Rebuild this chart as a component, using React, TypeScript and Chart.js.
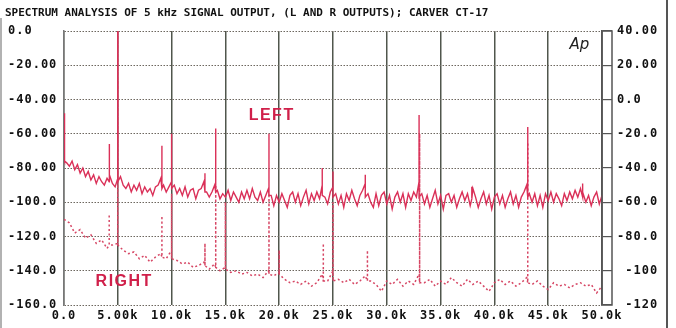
import React, { useEffect, useRef } from 'react';
import { Chart, registerables } from 'chart.js';

Chart.register(...registerables);

const TITLE = 'SPECTRUM ANALYSIS OF 5 kHz SIGNAL OUTPUT, (L AND R OUTPUTS); CARVER CT-17';

// X axis (kHz)
const xTickValues = [0, 5, 10, 15, 20, 25, 30, 35, 40, 45, 50];
const xTickLabels = ['0.0', '5.00k', '10.0k', '15.0k', '20.0k', '25.0k', '30.0k', '35.0k', '40.0k', '45.0k', '50.0k'];

// Left axis (dB)
const leftTickValues = [0, -20, -40, -60, -80, -100, -120, -140, -160];
const leftTickLabels = ['0.0', '-20.00', '-40.00', '-60.00', '-80.00', '-100.0', '-120.0', '-140.0', '-160.0'];

// Right axis (dB)
const rightTickValues = [40, 20, 0, -20, -40, -60, -80, -100, -120];
const rightTickLabels = ['40.00', '20.00', '0.0  ', '-20.0', '-40.0', '-60.0', '-80.0', ' -100', ' -120'];

// LEFT channel noise floor, one reading every 0.25 kHz from 0 to 50 kHz
const leftFloorStepKHz = 0.25;
const leftFloorDb = [
  -75,
  -77, -79, -76, -81, -78, -83, -80, -85, -82, -87, -84, -89, -85, -88, -90, -86,
  -84, -89, -91, -86, -85, -90, -92, -89, -94, -90, -93, -89, -95, -91, -94, -92,
  -96, -91, -90, -86, -90, -94, -91, -88, -90, -95, -92, -96, -91, -97, -93, -92,
  -98, -93, -92, -88, -94, -97, -94, -90, -93, -98, -95, -97, -93, -99, -94, -97,
  -100, -94, -98, -93, -98, -92, -97, -99, -94, -100, -96, -92, -96, -102, -96, -100,
  -95, -99, -103, -96, -94, -100, -95, -102, -97, -93, -101, -95, -99, -94, -98, -90,
  -97, -101, -94, -91, -95, -101, -96, -103, -95, -99, -93, -98, -102, -96, -93, -89,
  -95, -100, -103, -95, -102, -96, -94, -101, -96, -104, -97, -94, -100, -95, -103, -95,
  -99, -94, -97, -88, -95, -101, -96, -103, -98, -93, -101, -96, -104, -96, -95, -100,
  -96, -103, -98, -94, -99, -95, -102, -92, -97, -103, -98, -94, -101, -96, -104, -97,
  -95, -101, -96, -103, -98, -94, -101, -96, -103, -97, -94, -90, -95, -100, -95, -102,
  -96, -103, -95, -99, -94, -100, -95, -98, -102, -95, -99, -94, -98, -93, -97, -92,
  -95, -100, -96, -102, -97, -94, -101, -96,
];

// LEFT channel spectral lines: frequency (kHz), peak (dB), base (dB)
const leftPeakKHz = [0.05, 4.2, 5.0, 9.1, 10.0, 13.1, 14.1, 19.05, 24.0, 25.0, 28.0, 33.0, 37.9, 43.1, 48.2];
const leftPeakDb = [-48, -66, 0, -67, -60, -83, -57, -60, -80, -82, -84, -49, -91, -56, -89];
const leftPeakBaseDb = [-76, -88, -88, -92, -92, -94, -94, -96, -96, -97, -97, -97, -98, -97, -97];

// RIGHT channel noise floor, one reading every 0.5 kHz from 0 to 50 kHz
const rightFloorStepKHz = 0.5;
const rightFloorDb = [
  -110,
  -112, -118, -116, -121, -119, -124, -122, -127, -125, -124,
  -128, -130, -129, -133, -131, -135, -132, -130, -133, -128,
  -134, -136, -135, -138, -137, -135, -139, -136, -140, -138,
  -141, -140, -142, -141, -143, -142, -144, -140, -143, -141,
  -145, -147, -146, -148, -146, -149, -147, -142, -146, -140,
  -145, -147, -145, -148, -146, -143, -146, -148, -152, -146,
  -148, -145, -149, -146, -148, -142, -147, -145, -149, -146,
  -148, -144, -147, -149, -145, -148, -146, -149, -152, -147,
  -145, -148, -146, -149, -147, -144, -148, -146, -149, -151,
  -147, -149, -148, -150, -148, -147, -149, -148, -153, -149,
];

// RIGHT channel spectral lines
const rightPeakKHz = [4.2, 5.0, 9.1, 10.0, 13.1, 14.1, 15.0, 19.05, 20.0, 24.1, 25.0, 28.2, 33.05, 43.1];
const rightPeakDb = [-107, 0, -108, -95, -124, -90, -100, -95, -128, -124, -100, -128, -60, -65];
const rightPeakBaseDb = [-125, -125, -132, -133, -137, -138, -139, -142, -142, -146, -146, -146, -147, -147];

// Text annotations placed in data units
const leftLabelAt = [19.3, -49.5];
const rightLabelAt = [5.6, -146.5];
const apLabelAt = [47.9, -8.0];

type P = { x: number; y: number };

function buildTrace(step: number, floor: number[], pk: number[], pkDb: number[], pkBase: number[]): P[] {
  const pts: { x: number; y: number; o: number }[] = [];
  let o = 0;
  floor.forEach((v, i) => pts.push({ x: i * step, y: v, o: o++ }));
  pk.forEach((f, i) => {
    pts.push({ x: f, y: pkBase[i], o: o++ });
    pts.push({ x: f, y: pkDb[i], o: o++ });
    pts.push({ x: f, y: pkBase[i], o: o++ });
  });
  pts.sort((a, b) => (a.x - b.x) || (a.o - b.o));
  return pts.map((p) => ({ x: p.x, y: p.y }));
}

const MONO = "'DejaVu Sans Mono', monospace";

const decor = {
  id: 'decor',
  beforeDraw(chart: any) {
    const { ctx, width, height } = chart;
    ctx.save();
    ctx.fillStyle = '#ffffff';
    ctx.fillRect(0, 0, width, height);
    ctx.restore();
    ctx.letterSpacing = '1px';
  },
  afterDraw(chart: any) {
    const { ctx, chartArea, scales, height } = chart;
    ctx.save();
    ctx.letterSpacing = '0px';
    ctx.font = `bold 11px ${MONO}`;
    ctx.fillStyle = '#111';
    ctx.textAlign = 'left';
    ctx.textBaseline = 'middle';
    ctx.fillText(TITLE, 5, 13);

    ctx.font = "bold 16px 'Liberation Sans', Arial, sans-serif";
    ctx.letterSpacing = '1.5px';
    ctx.fillStyle = '#d0204a';
    ctx.textAlign = 'center';
    ctx.fillText('LEFT', scales.x.getPixelForValue(leftLabelAt[0]), scales.y.getPixelForValue(leftLabelAt[1]));
    ctx.fillText('RIGHT', scales.x.getPixelForValue(rightLabelAt[0]), scales.y.getPixelForValue(rightLabelAt[1]));

    ctx.letterSpacing = '0px';
    ctx.font = "italic 15px 'DejaVu Sans', sans-serif";
    ctx.fillStyle = '#222';
    ctx.fillText('Ap', scales.x.getPixelForValue(apLabelAt[0]), scales.y.getPixelForValue(apLabelAt[1]));

    // narrow scale box on the right axis
    ctx.strokeStyle = '#555';
    ctx.lineWidth = 1.5;
    ctx.strokeRect(chartArea.right, chartArea.top, 10, chartArea.bottom - chartArea.top);

    // page frame lines
    ctx.strokeStyle = '#555';
    ctx.lineWidth = 2;
    ctx.beginPath();
    ctx.moveTo(667, 0);
    ctx.lineTo(667, height);
    ctx.stroke();
    ctx.strokeStyle = '#999';
    ctx.lineWidth = 1.5;
    ctx.beginPath();
    ctx.moveTo(1, 18);
    ctx.lineTo(1, height);
    ctx.stroke();
    ctx.restore();
  },
};

export default function App() {
  const ref = useRef<HTMLCanvasElement>(null);
  useEffect(() => {
    document.body.style.margin = '0';
    const leftData = buildTrace(leftFloorStepKHz, leftFloorDb, leftPeakKHz, leftPeakDb, leftPeakBaseDb);
    const rightData = buildTrace(rightFloorStepKHz, rightFloorDb, rightPeakKHz, rightPeakDb, rightPeakBaseDb);
    const tickFont = { family: MONO, size: 12, weight: 'bold' as const };
    const chart = new Chart(ref.current!, {
      type: 'line',
      data: {
        datasets: [
          {
            label: 'LEFT',
            data: leftData,
            borderColor: 'rgb(218, 48, 88)',
            borderWidth: 1.4,
            pointRadius: 0,
            tension: 0,
            fill: false,
            yAxisID: 'y',
          },
          {
            label: 'RIGHT',
            data: rightData,
            borderColor: 'rgb(214, 70, 100)',
            borderWidth: 1.5,
            borderDash: [2, 2.5],
            pointRadius: 0,
            tension: 0,
            fill: false,
            yAxisID: 'y',
          },
        ],
      },
      options: {
        animation: false,
        responsive: false,
        devicePixelRatio: 1,
        layout: { padding: { left: 8, top: 31, right: 0, bottom: 0 } },
        plugins: { legend: { display: false }, tooltip: { enabled: false }, title: { display: false } },
        scales: {
          x: {
            type: 'linear',
            min: 0,
            max: 50,
            afterBuildTicks: (s: any) => {
              s.ticks = xTickValues.map((v) => ({ value: v }));
            },
            afterFit: (s: any) => {
              s.height = 23;
            },
            ticks: {
              font: tickFont,
              color: '#111',
              padding: 4,
              maxRotation: 0,
              autoSkip: false,
              callback: (v: any) => {
                const i = xTickValues.indexOf(Number(v));
                return i >= 0 ? xTickLabels[i] : '';
              },
            },
            grid: { color: '#50564c', lineWidth: 1.5, drawTicks: false },
            border: { display: false },
          },
          y: {
            type: 'linear',
            position: 'left',
            min: -160,
            max: 0,
            afterBuildTicks: (s: any) => {
              s.ticks = leftTickValues.slice().reverse().map((v) => ({ value: v }));
            },
            afterFit: (s: any) => {
              s.width = 56;
            },
            ticks: {
              font: tickFont,
              color: '#111',
              crossAlign: 'far',
              padding: 0,
              autoSkip: false,
              callback: (v: any) => {
                const i = leftTickValues.indexOf(Number(v));
                return i >= 0 ? leftTickLabels[i] : '';
              },
            },
            grid: { color: '#6d675f', lineWidth: 1, drawTicks: false },
            border: { display: true, color: '#777', width: 1.5, dash: [1.5, 1.5] },
          },
          y2: {
            type: 'linear',
            position: 'right',
            min: -120,
            max: 40,
            afterBuildTicks: (s: any) => {
              s.ticks = rightTickValues.slice().reverse().map((v) => ({ value: v }));
            },
            afterFit: (s: any) => {
              s.width = 74;
            },
            ticks: {
              font: tickFont,
              color: '#111',
              crossAlign: 'near',
              padding: 5,
              autoSkip: false,
              callback: (v: any) => {
                const i = rightTickValues.indexOf(Number(v));
                return i >= 0 ? rightTickLabels[i] : '';
              },
            },
            grid: { drawOnChartArea: false, drawTicks: true, tickLength: 10, color: '#555', lineWidth: 1.2 },
            border: { display: true, color: '#555', width: 1.5 },
          },
        },
      },
      plugins: [decor],
    } as any);
    return () => chart.destroy();
  }, []);
  return (
    <div style={{ width: 676, height: 328 }}>
      <canvas ref={ref} width={676} height={328} style={{ display: 'block' }} />
    </div>
  );
}
